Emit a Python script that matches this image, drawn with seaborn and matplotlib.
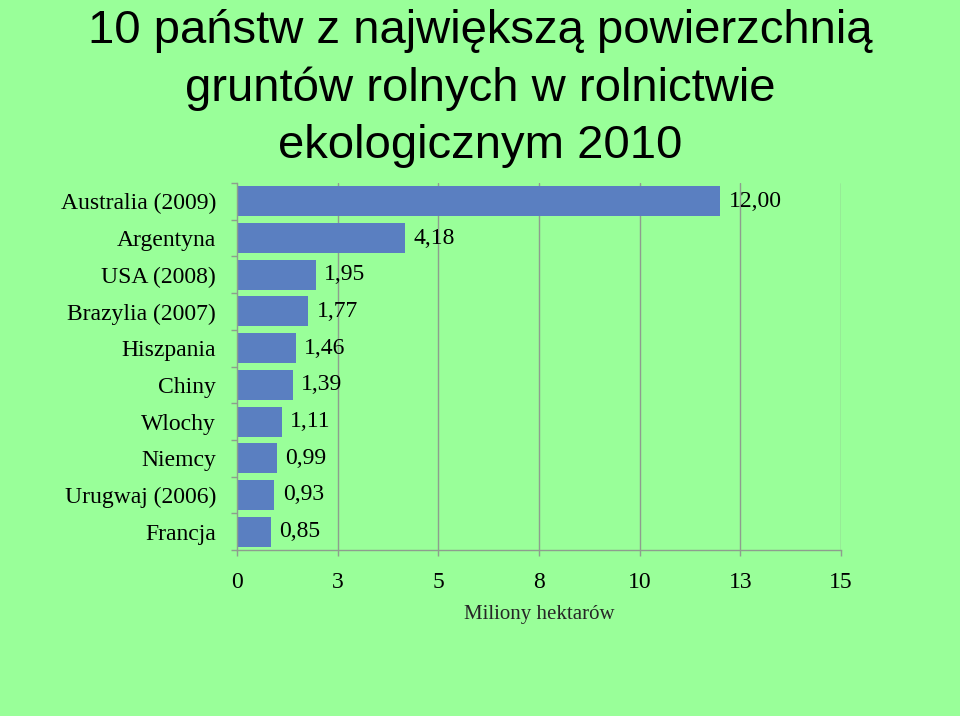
import matplotlib
matplotlib.use("Agg")
import matplotlib.pyplot as plt
import seaborn as sns
import pandas as pd
import numpy as np

# Data
countries = ["Australia (2009)", "Argentyna", "USA (2008)", "Brazylia (2007)", "Hiszpania",
             "Chiny", "Wlochy", "Niemcy", "Urugwaj (2006)", "Francja"]
values = [12.00, 4.18, 1.95, 1.77, 1.46, 1.39, 1.11, 0.99, 0.93, 0.85]
x_ticks = [0, 2.5, 5, 7.5, 10, 12.5, 15]
x_tick_labels = ["0", "3", "5", "8", "10", "13", "15"]
title = "10 państw z największą powierzchnią\ngruntów rolnych w rolnictwie\nekologicznym 2010"
x_label = "Miliony hektarów"

BG = "#99FF99"
BAR = "#5A7FC1"
GRID = "#8E9E8E"

sns.set_theme(style="white")
plt.rcParams["font.family"] = ["Liberation Serif", "DejaVu Serif"]

fig = plt.figure(figsize=(9.6, 7.16), dpi=100, facecolor=BG)
ax = fig.add_axes([237/960, 1-550/716, (841-237)/960, (550-183)/716])
ax.set_facecolor(BG)

df = pd.DataFrame({"country": countries, "value": values})
sns.barplot(data=df, x="value", y="country", orient="h", color=BAR, width=0.82,
            saturation=1, ax=ax, edgecolor="none")

ax.set_xlim(0, 15)
ax.set_ylim(len(countries) - 0.5, -0.5)
ax.set_xticks(x_ticks)
ax.set_xticklabels(x_tick_labels)
ax.set_xlabel(x_label, fontsize=15, labelpad=9)
ax.set_ylabel("")

for xt in x_ticks[1:]:
    ax.axvline(xt, color=GRID, lw=1, zorder=0)

for s in ["top", "right"]:
    ax.spines[s].set_visible(False)
for s in ["left", "bottom"]:
    ax.spines[s].set_color(GRID)
    ax.spines[s].set_linewidth(1)

ax.tick_params(axis="y", which="major", length=0, pad=15, labelsize=17, colors="black")
ax.set_yticks(np.arange(-0.5, len(countries), 1), minor=True)
ax.tick_params(axis="y", which="minor", length=4.5, width=1, color=GRID, left=True)
ax.tick_params(axis="x", which="major", length=4.5, width=1, color=GRID, pad=11,
               labelsize=17, labelcolor="black", bottom=True)

labels = [f"{v:.2f}".replace(".", ",") for v in values]
ax.bar_label(ax.containers[0], labels=labels, padding=6, fontsize=17, color="black")

fig.text(0.5, 1 - 9/716, title, ha="center", va="top", fontsize=34,
         family=["Liberation Sans", "DejaVu Sans"], linespacing=1.38, color="black")

fig.savefig("out.png", dpi=100, facecolor=BG)
